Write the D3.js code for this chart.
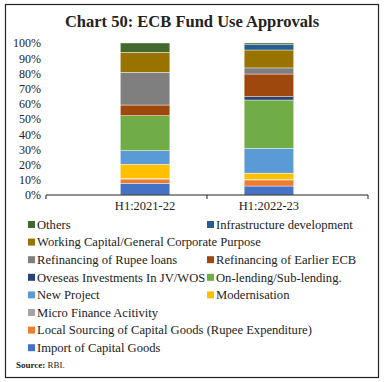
<!DOCTYPE html>
<html>
<head>
<meta charset="utf-8">
<script src="https://cdn.jsdelivr.net/npm/d3@7"></script>
<style>
  body { margin: 0; background: #fff; }
  text { font-family: "Liberation Serif", "DejaVu Serif", serif; fill: #222; }
</style>
</head>
<body>
<div id="chart"></div>
<script>
const categories = ["H1:2021-22", "H1:2022-23"];
// stack order, bottom to top
const seriesNames = [
  "Import of Capital Goods",
  "Local Sourcing of Capital Goods (Rupee Expenditure)",
  "Micro Finance Acitivity",
  "Modernisation",
  "New Project",
  "On-lending/Sub-lending.",
  "Oveseas Investments In JV/WOS",
  "Refinancing of Earlier ECB",
  "Refinancing of Rupee loans",
  "Working Capital/General Corporate Purpose",
  "Infrastructure development",
  "Others"
];
const values2021 = [7.7, 2.8, 0.3, 9.4, 9.0, 23.0, 0.0, 7.0, 21.5, 13.2, 0.0, 6.1];
const values2022 = [5.9, 4.0, 0.3, 4.2, 16.3, 31.8, 2.2, 14.9, 4.0, 11.8, 3.5, 1.1];
const colors = ["#4472C4", "#ED7D31", "#A5A5A5", "#FFC000", "#5B9BD5", "#70AD47",
  "#264478", "#9E480E", "#7F7F7F", "#997300", "#255E91", "#43682B"];
const yTicks = [0, 10, 20, 30, 40, 50, 60, 70, 80, 90, 100];
// legend rows as shown (left column, right column)
const legendRows = [
  ["Others", "Infrastructure development"],
  ["Working Capital/General Corporate Purpose", null],
  ["Refinancing of Rupee loans", "Refinancing of Earlier ECB"],
  ["Oveseas Investments In JV/WOS", "On-lending/Sub-lending."],
  ["New Project", "Modernisation"],
  ["Micro Finance Acitivity", null],
  ["Local Sourcing of Capital Goods (Rupee Expenditure)", null],
  ["Import of Capital Goods", null]
];

const width = 384, height = 382;
const svg = d3.select("#chart").append("svg")
  .attr("width", width).attr("height", height);

// frame
svg.append("rect")
  .attr("x", 5.5).attr("y", 4.5)
  .attr("width", 373).attr("height", 373)
  .attr("fill", "none").attr("stroke", "#222").attr("stroke-width", 1.2);

// title
svg.append("text")
  .attr("x", 192).attr("y", 27)
  .attr("text-anchor", "middle")
  .style("font-weight", "bold").style("font-size", "16.5px")
  .text("Chart 50: ECB Fund Use Approvals");

const plotLeft = 46, plotRight = 368, plotTop = 43, plotBottom = 195;

const x = d3.scaleBand().domain(categories).range([plotLeft, plotRight]).padding(0.6);
const y = d3.scaleLinear().domain([0, 100]).range([plotBottom, plotTop]);
const color = d3.scaleOrdinal().domain(seriesNames).range(colors);

// build table for stack
const table = categories.map((c, i) => {
  const row = { cat: c };
  const vals = i === 0 ? values2021 : values2022;
  seriesNames.forEach((s, j) => row[s] = vals[j]);
  return row;
});
const stacked = d3.stack().keys(seriesNames)(table);

const g = svg.append("g");
g.selectAll("g.layer").data(stacked).enter().append("g")
  .attr("class", "layer")
  .attr("fill", d => color(d.key))
  .selectAll("rect").data(d => d).enter().append("rect")
  .attr("x", d => x(d.data.cat))
  .attr("width", x.bandwidth())
  .attr("y", d => y(d[1]))
  .attr("height", d => Math.max(0, y(d[0]) - y(d[1])))
  .attr("stroke", "#fff").attr("stroke-width", 0.4);

// y axis labels (no axis line)
const yAxis = svg.append("g")
  .attr("transform", `translate(${plotLeft - 1},0)`)
  .call(d3.axisLeft(y).tickValues(yTicks).tickFormat(d => d + "%").tickSize(0).tickPadding(4));
yAxis.select(".domain").remove();
yAxis.selectAll("text").style("font-size", "12px").style("font-family", "Liberation Serif, serif").attr("fill", "#222");

// x axis
const xAxisG = svg.append("g").attr("transform", `translate(0,${plotBottom})`);
xAxisG.append("line")
  .attr("x1", plotLeft).attr("x2", plotRight)
  .attr("stroke", "#222").attr("stroke-width", 1);
const bandTicks = [plotLeft, (plotLeft + plotRight) / 2, plotRight];
xAxisG.selectAll("line.tick").data(bandTicks).enter().append("line")
  .attr("class", "tick")
  .attr("x1", d => d).attr("x2", d => d)
  .attr("y1", 0).attr("y2", 4)
  .attr("stroke", "#222");
xAxisG.selectAll("text").data(categories).enter().append("text")
  .attr("x", d => x(d) + x.bandwidth() / 2)
  .attr("y", 15)
  .attr("text-anchor", "middle")
  .style("font-size", "12.5px")
  .text(d => d);

// legend
const legend = svg.append("g");
const colX = [28, 207];
legendRows.forEach((row, i) => {
  const ly = 225 + i * 17.6;
  row.forEach((name, j) => {
    if (!name) return;
    legend.append("rect")
      .attr("x", colX[j]).attr("y", ly - 4)
      .attr("width", 7).attr("height", 7)
      .attr("fill", color(name));
    legend.append("text")
      .attr("x", colX[j] + 9).attr("y", ly + 3.8)
      .style("font-size", "12.6px")
      .text(name);
  });
});

// source
const src = svg.append("text").attr("x", 16).attr("y", 368).style("font-size", "9px");
src.append("tspan").style("font-weight", "bold").text("Source: ");
src.append("tspan").text("RBI.");
</script>
</body>
</html>
